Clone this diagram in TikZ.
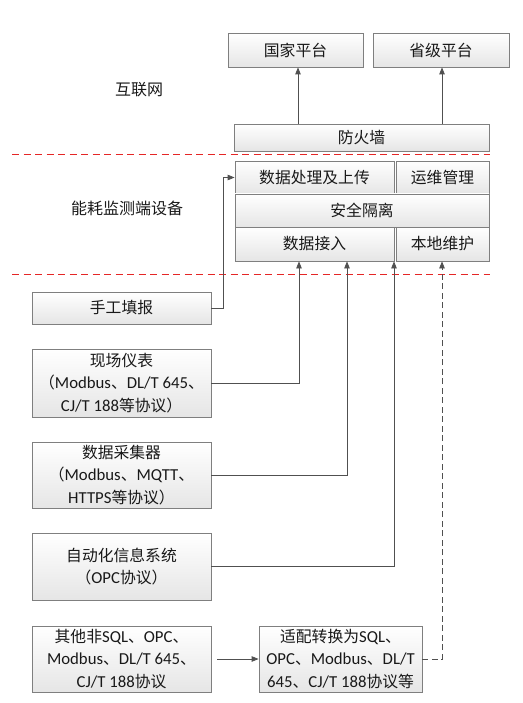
\documentclass[tikz,border=0pt]{standalone}
\usepackage{fontspec}
\setmainfont{Carlito}[Scale=1.06]
\newfontfamily\cjk{Noto Sans CJK SC}
\usetikzlibrary{arrows.meta,shadows,calc}
\newcommand\zhc[1]{{\cjk #1}}
\definecolor{boxgray}{HTML}{7F7F7F}
\definecolor{linegray}{HTML}{505050}
\definecolor{sepred}{rgb}{0.9,0.15,0.15}
\begin{document}
\begin{tikzpicture}[x=1pt,y=-1pt,
  box/.style={draw=boxgray, line width=0.8pt, top color=white, bottom color=gray!20,
    drop shadow={shadow xshift=1.3pt, shadow yshift=-1.3pt, opacity=0.35, fill=gray},
    inner sep=0pt, align=center, text=black!90, font=\fontsize{15.8}{22.5}\selectfont},
  lbl/.style={inner sep=0pt, text=black!90, font=\fontsize{16}{18}\selectfont\cjk},
  conn/.style={draw=linegray, line width=0.8pt},
  tip/.style={-{Triangle[length=7pt,width=5.5pt]}},
  longdash/.style={dash pattern=on 6pt off 3.5pt},
  reddash/.style={draw=sepred, line width=1.1pt, dash pattern=on 7pt off 4.5pt}]
\useasboundingbox (0,0) rectangle (522,703);

% top platforms
\node[box, minimum width=135pt, minimum height=34pt] (gj) at (295.5,50) {\zhc{国家平台}};
\node[box, minimum width=136pt, minimum height=34pt] (sj) at (441,50) {\zhc{省级平台}};
\node[lbl] (hlw) at (139,90) {互联网};
\node[box, minimum width=255pt, minimum height=27pt] (fhq) at (361.5,137.5) {\zhc{防火墙}};

% device
\node[lbl] (nh) at (127,208) {能耗监测端设备};
\node[box, minimum width=159pt, minimum height=33pt] (sjcl) at (314.5,177.5) {\zhc{数据处理及上传}};
\node[box, minimum width=93pt, minimum height=33pt] (ywgl) at (442.5,177.5) {\zhc{运维管理}};
\node[box, minimum width=254pt, minimum height=33pt] (aqgl) at (362,210.5) {\zhc{安全隔离}};
\node[box, minimum width=159pt, minimum height=34pt] (sjjr) at (314.5,244) {\zhc{数据接入}};
\node[box, minimum width=93pt, minimum height=34pt] (bdwh) at (442.5,244) {\zhc{本地维护}};

% separators
\draw[reddash] (12,154.5) -- (490,154.5);
\draw[reddash] (12,274.5) -- (490,274.5);

% sources
\node[box, minimum width=179pt, minimum height=32pt] (sgtb) at (121.5,308) {\zhc{手工填报}};
\node[box, minimum width=179pt, minimum height=68pt] (xcyb) at (121.5,383) {\zhc{现场仪表}\\\zhc{（}Modbus\zhc{、}DL/T 645\zhc{、}\\CJ/T 188\zhc{等协议）}};
\node[box, minimum width=179pt, minimum height=66pt] (sjcjq) at (121.5,475) {\zhc{数据采集器}\\\zhc{（}Modbus\zhc{、}MQTT\zhc{、}\\HTTPS\zhc{等协议）}};
\node[box, minimum width=179pt, minimum height=67pt] (zdh) at (121.5,566.5) {\zhc{自动化信息系统}\\\zhc{（}OPC\zhc{协议）}};
\node[box, minimum width=179pt, minimum height=66pt] (qt) at (121.5,659) {\zhc{其他非}SQL\zhc{、}OPC\zhc{、}\\Modbus\zhc{、}DL/T 645\zhc{、}\\CJ/T 188\zhc{协议}};
\node[box, minimum width=163pt, minimum height=66pt] (shpz) at (340.5,659) {\zhc{适配转换为}SQL\zhc{、}\\OPC\zhc{、}Modbus\zhc{、}DL/T\\645\zhc{、}CJ/T 188\zhc{协议等}};

% helper columns
\coordinate (xa) at (298,0);
\coordinate (xb) at (442,0);
\coordinate (x1) at (223,0);
\coordinate (x2) at (299,0);
\coordinate (x3) at (347,0);
\coordinate (x4) at (394,0);
\coordinate (x5) at (442,0);

% connectors
\draw[conn,tip] (fhq.north -| xa) -- (gj.south -| xa);
\draw[conn,tip] (fhq.north -| xb) -- (sj.south -| xb);
\draw[conn,tip] (sgtb.east) -- (sgtb.east -| x1) -- (sjcl.west -| x1) -- (sjcl.west);
\draw[conn,tip] (xcyb.east) -| (sjjr.south -| x2);
\draw[conn,tip] (sjcjq.east) -| (sjjr.south -| x3);
\draw[conn,tip] (zdh.east) -| (sjjr.south -| x4);
\draw[conn,tip,shorten <=6pt] (qt.east) -- (shpz.west);
\draw[conn,tip,longdash] (shpz.east) -| (bdwh.south -| x5);
\end{tikzpicture}
\end{document}
